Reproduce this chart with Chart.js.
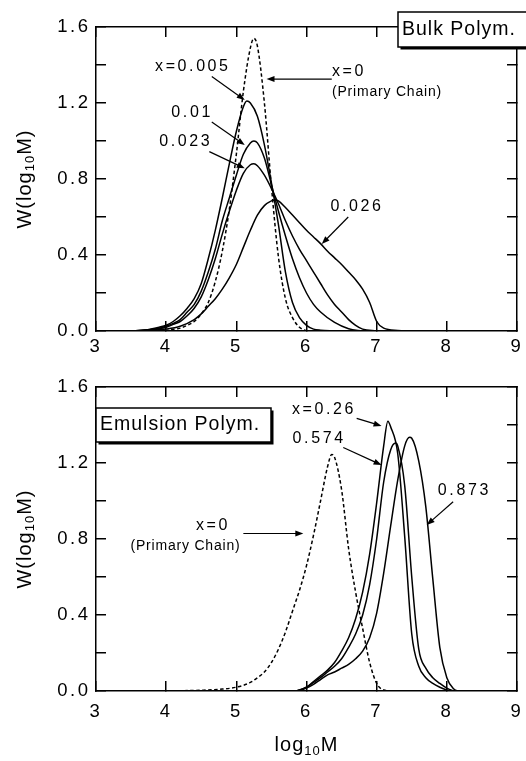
<!DOCTYPE html>
<html>
<head>
<meta charset="utf-8">
<script src="https://cdn.jsdelivr.net/npm/chart.js@4/dist/chart.umd.min.js"></script>
<style>
  html, body { margin: 0; padding: 0; background: #fff; }
  #wrap { position: relative; width: 526px; height: 761px; }
  canvas { position: absolute; left: 0; }
</style>
</head>
<body>
<div id="wrap">
  <canvas id="bulk" width="526" height="370" style="top:0"></canvas>
  <canvas id="emul" width="526" height="391" style="top:370px"></canvas>
</div>
<script>
// ---------- DATA ----------
const xTickLabels = ['3', '4', '5', '6', '7', '8', '9'];
const yTickLabels = ['0.0', '0.4', '0.8', '1.2', '1.6'];

// Bulk polymerization (top panel)
const bulkPrimaryX = [3.9, 4.0, 4.1, 4.2, 4.3, 4.4, 4.5, 4.6, 4.7, 4.8, 4.9, 5.0, 5.1, 5.2, 5.25, 5.3, 5.4, 5.5, 5.6, 5.7, 5.8, 5.9, 6.0];
const bulkPrimaryY = [0, 0.003, 0.008, 0.015, 0.03, 0.05, 0.09, 0.15, 0.26, 0.42, 0.64, 0.93, 1.26, 1.49, 1.54, 1.50, 1.20, 0.76, 0.39, 0.17, 0.07, 0.02, 0];

const bulk0005X = [3.5, 3.7, 3.9, 4.0, 4.1, 4.2, 4.3, 4.4, 4.5, 4.6, 4.7, 4.8, 4.9, 5.0, 5.1, 5.15, 5.2, 5.3, 5.4, 5.5, 5.6, 5.7, 5.8, 5.9, 6.0, 6.1, 6.2, 6.4];
const bulk0005Y = [0, 0.005, 0.02, 0.03, 0.05, 0.08, 0.12, 0.17, 0.25, 0.38, 0.53, 0.70, 0.88, 1.05, 1.18, 1.21, 1.20, 1.13, 0.98, 0.78, 0.56, 0.31, 0.15, 0.07, 0.03, 0.01, 0.004, 0];

const bulk001X = [3.5, 3.7, 3.9, 4.0, 4.1, 4.2, 4.3, 4.4, 4.5, 4.6, 4.7, 4.8, 4.9, 5.0, 5.1, 5.2, 5.25, 5.3, 5.4, 5.5, 5.6, 5.7, 5.8, 5.9, 6.0, 6.1, 6.2, 6.4, 6.6, 6.8];
const bulk001Y = [0, 0.005, 0.015, 0.025, 0.04, 0.06, 0.10, 0.14, 0.21, 0.31, 0.43, 0.58, 0.70, 0.82, 0.93, 0.99, 1.00, 0.99, 0.91, 0.77, 0.63, 0.50, 0.38, 0.28, 0.20, 0.14, 0.10, 0.045, 0.012, 0];

const bulk0023X = [3.5, 3.7, 3.9, 4.0, 4.1, 4.2, 4.3, 4.4, 4.5, 4.6, 4.7, 4.8, 4.9, 5.0, 5.1, 5.2, 5.25, 5.3, 5.4, 5.5, 5.6, 5.7, 5.8, 5.9, 6.0, 6.1, 6.2, 6.3, 6.4, 6.5, 6.6, 6.7, 6.8, 7.0];
const bulk0023Y = [0, 0.004, 0.012, 0.02, 0.035, 0.05, 0.08, 0.12, 0.18, 0.27, 0.38, 0.51, 0.63, 0.74, 0.83, 0.875, 0.88, 0.87, 0.82, 0.75, 0.67, 0.58, 0.50, 0.43, 0.37, 0.31, 0.25, 0.19, 0.14, 0.10, 0.06, 0.03, 0.01, 0];

const bulk0026X = [3.6, 3.8, 4.0, 4.2, 4.4, 4.5, 4.6, 4.7, 4.8, 4.9, 5.0, 5.1, 5.2, 5.3, 5.4, 5.5, 5.55, 5.6, 5.7, 5.8, 5.9, 6.0, 6.1, 6.2, 6.3, 6.4, 6.5, 6.6, 6.7, 6.8, 6.9, 7.0, 7.1, 7.3, 7.5];
const bulk0026Y = [0, 0.004, 0.01, 0.025, 0.06, 0.09, 0.13, 0.17, 0.22, 0.28, 0.35, 0.44, 0.53, 0.61, 0.66, 0.685, 0.69, 0.685, 0.65, 0.61, 0.57, 0.53, 0.495, 0.46, 0.42, 0.385, 0.35, 0.31, 0.27, 0.22, 0.15, 0.05, 0.015, 0.003, 0];

// Emulsion polymerization (bottom panel)
const emulPrimaryX = [4.0, 4.5, 4.8, 5.0, 5.2, 5.3, 5.4, 5.5, 5.6, 5.7, 5.8, 5.9, 6.0, 6.1, 6.2, 6.3, 6.36, 6.4, 6.5, 6.6, 6.7, 6.8, 6.9, 7.0, 7.1, 7.2];
const emulPrimaryY = [0, 0.004, 0.01, 0.02, 0.045, 0.07, 0.10, 0.15, 0.22, 0.31, 0.42, 0.53, 0.66, 0.82, 1.00, 1.18, 1.245, 1.23, 1.06, 0.75, 0.52, 0.33, 0.15, 0.04, 0.005, 0];

const emul026X = [5.85, 5.9, 6.0, 6.1, 6.2, 6.3, 6.4, 6.5, 6.6, 6.7, 6.8, 6.9, 7.0, 7.1, 7.16, 7.2, 7.3, 7.4, 7.5, 7.6, 7.7, 7.8, 7.9, 8.0, 8.05];
const emul026Y = [0, 0.005, 0.02, 0.05, 0.08, 0.11, 0.15, 0.21, 0.28, 0.38, 0.52, 0.72, 0.99, 1.29, 1.42, 1.39, 1.25, 0.81, 0.30, 0.13, 0.07, 0.04, 0.02, 0.005, 0];

const emul0574X = [5.85, 5.9, 6.0, 6.1, 6.2, 6.3, 6.4, 6.5, 6.6, 6.7, 6.8, 6.9, 7.0, 7.1, 7.2, 7.27, 7.3, 7.4, 7.5, 7.6, 7.7, 7.8, 7.9, 8.0, 8.1];
const emul0574Y = [0, 0.005, 0.02, 0.045, 0.07, 0.10, 0.13, 0.17, 0.23, 0.30, 0.40, 0.56, 0.80, 1.10, 1.27, 1.305, 1.29, 1.08, 0.60, 0.22, 0.12, 0.07, 0.04, 0.015, 0];

const emul0873X = [5.9, 6.0, 6.1, 6.2, 6.3, 6.4, 6.5, 6.6, 6.7, 6.8, 6.9, 7.0, 7.1, 7.2, 7.3, 7.4, 7.47, 7.5, 7.6, 7.7, 7.8, 7.9, 8.0, 8.1, 8.15];
const emul0873Y = [0, 0.015, 0.035, 0.06, 0.085, 0.10, 0.12, 0.14, 0.17, 0.21, 0.28, 0.41, 0.62, 0.87, 1.11, 1.29, 1.335, 1.33, 1.21, 0.97, 0.59, 0.23, 0.07, 0.01, 0];

// ---------- RENDERING ----------
const FONT = '"Liberation Sans", Arial, Helvetica, sans-serif';

function pts(xs, ys) { return xs.map((x, i) => ({ x: x, y: ys[i] })); }
function series(xs, ys, dashed) {
  return {
    data: pts(xs, ys),
    borderColor: '#000',
    borderWidth: 1.5,
    borderDash: dashed ? [3.5, 2.5] : [],
    pointRadius: 0,
    fill: false,
    cubicInterpolationMode: 'monotone',
    xAxisID: 'x', yAxisID: 'y'
  };
}

function drawText(ctx, s, x, y, size, ls, align, base) {
  ctx.save();
  ctx.font = size + 'px ' + FONT;
  ctx.letterSpacing = ls + 'px';
  ctx.textAlign = align || 'left';
  ctx.textBaseline = base || 'middle';
  ctx.fillStyle = '#000';
  ctx.fillText(s, x, y);
  ctx.restore();
}

function drawRich(ctx, parts, cx, cy, rotate) {
  ctx.save();
  ctx.translate(cx, cy);
  if (rotate) ctx.rotate(-Math.PI / 2);
  ctx.fillStyle = '#000';
  ctx.textBaseline = 'middle';
  ctx.textAlign = 'left';
  let total = 0;
  const widths = parts.map(p => {
    ctx.font = p.size + 'px ' + FONT;
    ctx.letterSpacing = (p.ls || 0) + 'px';
    const w = ctx.measureText(p.t).width;
    total += w;
    return w;
  });
  let x = -total / 2;
  parts.forEach((p, i) => {
    ctx.font = p.size + 'px ' + FONT;
    ctx.letterSpacing = (p.ls || 0) + 'px';
    ctx.fillText(p.t, x, p.dy || 0);
    x += widths[i];
  });
  ctx.restore();
}

function drawArrow(ctx, x1, y1, x2, y2) {
  const ang = Math.atan2(y2 - y1, x2 - x1);
  const L = 8, W = 3;
  ctx.save();
  ctx.strokeStyle = '#000';
  ctx.fillStyle = '#000';
  ctx.lineWidth = 1.2;
  ctx.beginPath();
  ctx.moveTo(x1, y1);
  ctx.lineTo(x2 - Math.cos(ang) * (L - 1), y2 - Math.sin(ang) * (L - 1));
  ctx.stroke();
  ctx.beginPath();
  ctx.moveTo(x2, y2);
  ctx.lineTo(x2 - L * Math.cos(ang) + W * Math.sin(ang), y2 - L * Math.sin(ang) - W * Math.cos(ang));
  ctx.lineTo(x2 - L * Math.cos(ang) - W * Math.sin(ang), y2 - L * Math.sin(ang) + W * Math.cos(ang));
  ctx.closePath();
  ctx.fill();
  ctx.restore();
}

function drawBox(ctx, box) {
  ctx.save();
  ctx.fillStyle = '#000';
  ctx.fillRect(box.x + 2.5, box.y + 2.5, box.w, box.h);
  ctx.fillStyle = '#fff';
  ctx.fillRect(box.x, box.y, box.w, box.h);
  ctx.strokeStyle = '#000';
  ctx.lineWidth = 1.5;
  ctx.strokeRect(box.x, box.y, box.w, box.h);
  ctx.restore();
  drawText(ctx, box.text, box.tx, box.ty, 19.5, 1, 'left', 'middle');
}

const annoPlugin = {
  id: 'anno',
  beforeDraw(chart) { chart.ctx.letterSpacing = '2.5px'; },
  afterDraw(chart, args, opts) {
    const ctx = chart.ctx;
    const xs = chart.scales.x, ys = chart.scales.y;
    const ca = chart.chartArea;
    (opts.labels || []).forEach(l => {
      drawText(ctx, l.t, xs.getPixelForValue(l.x), ys.getPixelForValue(l.y), l.size, l.ls, l.align, 'middle');
    });
    (opts.arrows || []).forEach(a => {
      drawArrow(ctx, xs.getPixelForValue(a[0]), ys.getPixelForValue(a[1]),
                     xs.getPixelForValue(a[2]), ys.getPixelForValue(a[3]));
    });
    if (opts.box) drawBox(ctx, opts.box);
    // y-axis title
    drawRich(ctx, [
      { t: 'W(log', size: 20, ls: 1 },
      { t: '10', size: 13, ls: 1, dy: 5 },
      { t: 'M)', size: 20, ls: 1 }
    ], 25, (ca.top + ca.bottom) / 2, true);
    if (opts.xTitle) {
      drawRich(ctx, [
        { t: 'log', size: 20, ls: 1 },
        { t: '10', size: 13, ls: 1, dy: 6 },
        { t: 'M', size: 20, ls: 1 }
      ], (ca.left + ca.right) / 2, opts.xTitleY, false);
    }
  }
};

function axisGrid() {
  return { drawOnChartArea: false, drawTicks: true, tickLength: -10, color: '#000', lineWidth: 1.5 };
}
function axisBorder() { return { display: true, color: '#000', width: 1.5 }; }
function zeroPad(s) { s.paddingLeft = 0; s.paddingRight = 0; s.paddingTop = 0; s.paddingBottom = 0; }

function makeOptions(cfg) {
  const tickFont = { family: FONT, size: 18.5 };
  return {
    responsive: false,
    animation: false,
    devicePixelRatio: 1,
    layout: { padding: { left: 0, right: 9, top: cfg.padTop, bottom: 0 } },
    plugins: { legend: { display: false }, tooltip: { enabled: false }, anno: cfg.anno },
    elements: { point: { radius: 0 } },
    scales: {
      x: {
        type: 'linear', position: 'bottom', min: 3, max: 9,
        ticks: { stepSize: 1, autoSkip: false, maxRotation: 0, padding: cfg.xPad, color: '#000', font: tickFont,
                 callback: (v) => { const i = Math.round(v) - 3; return xTickLabels[i] !== undefined ? xTickLabels[i] : ''; } },
        grid: axisGrid(), border: axisBorder(),
        afterFit: (s) => { s.height = cfg.xH; zeroPad(s); }
      },
      xTop: {
        type: 'linear', position: 'top', min: 3, max: 9,
        ticks: { stepSize: 1, autoSkip: false, maxRotation: 0, callback: () => '' },
        grid: axisGrid(), border: axisBorder(),
        afterFit: (s) => { s.height = 0; zeroPad(s); }
      },
      y: {
        type: 'linear', position: 'left', min: 0, max: 1.6,
        ticks: { stepSize: 0.2, autoSkip: false, padding: 15.5, color: '#000', font: tickFont,
                 callback: (v) => { const k = Math.round(v * 10); return (k % 4 === 0) ? yTickLabels[k / 4] : ''; } },
        grid: axisGrid(), border: axisBorder(),
        afterFit: (s) => { s.width = 96; zeroPad(s); }
      },
      yRight: {
        type: 'linear', position: 'right', min: 0, max: 1.6,
        ticks: { stepSize: 0.2, autoSkip: false, callback: () => '' },
        grid: axisGrid(), border: axisBorder(),
        afterFit: (s) => { s.width = 0; zeroPad(s); }
      }
    }
  };
}

new Chart(document.getElementById('bulk'), {
  type: 'line',
  data: {
    datasets: [
      series(bulkPrimaryX, bulkPrimaryY, true),
      series(bulk0005X, bulk0005Y, false),
      series(bulk001X, bulk001Y, false),
      series(bulk0023X, bulk0023Y, false),
      series(bulk0026X, bulk0026Y, false)
    ]
  },
  options: makeOptions({
    padTop: 27, xH: 39, xPad: 15,
    anno: {
      labels: [
        { t: 'x=0.005', x: 4.38, y: 1.39, size: 16, ls: 2.6, align: 'center' },
        { t: 'x=0', x: 6.363, y: 1.363, size: 16, ls: 2.6, align: 'left' },
        { t: '(Primary Chain)', x: 6.363, y: 1.258, size: 14, ls: 0.8, align: 'left' },
        { t: '0.01', x: 4.37, y: 1.147, size: 16, ls: 2.6, align: 'center' },
        { t: '0.023', x: 4.28, y: 0.995, size: 16, ls: 2.6, align: 'center' },
        { t: '0.026', x: 6.72, y: 0.653, size: 16, ls: 2.6, align: 'center' }
      ],
      arrows: [
        [4.65, 1.34, 5.12, 1.216],
        [6.36, 1.326, 5.43, 1.326],
        [4.65, 1.10, 5.12, 0.979],
        [4.615, 0.944, 5.12, 0.856],
        [6.595, 0.60, 6.217, 0.458]
      ],
      box: { x: 398, y: 12, w: 140, h: 35, text: 'Bulk Polym.', tx: 402, ty: 30 }
    }
  }),
  plugins: [annoPlugin]
});

new Chart(document.getElementById('emul'), {
  type: 'line',
  data: {
    datasets: [
      series(emulPrimaryX, emulPrimaryY, true),
      series(emul026X, emul026Y, false),
      series(emul0574X, emul0574Y, false),
      series(emul0873X, emul0873Y, false)
    ]
  },
  options: makeOptions({
    padTop: 17, xH: 70, xPad: 20,
    anno: {
      labels: [
        { t: 'x=0.26', x: 6.25, y: 1.479, size: 16, ls: 2.6, align: 'center' },
        { t: '0.574', x: 6.18, y: 1.331, size: 16, ls: 2.6, align: 'center' },
        { t: '0.873', x: 8.25, y: 1.054, size: 16, ls: 2.6, align: 'center' },
        { t: 'x=0', x: 4.667, y: 0.868, size: 16, ls: 2.6, align: 'center' },
        { t: '(Primary Chain)', x: 4.275, y: 0.762, size: 14, ls: 0.8, align: 'center' }
      ],
      arrows: [
        [6.715, 1.435, 7.07, 1.395],
        [6.524, 1.282, 7.07, 1.189],
        [8.09, 0.996, 7.713, 0.874],
        [5.10, 0.829, 5.955, 0.829]
      ],
      box: { x: 96, y: 38, w: 175, h: 34, text: 'Emulsion Polym.', tx: 100, ty: 55 },
      xTitle: true, xTitleY: 375
    }
  }),
  plugins: [annoPlugin]
});
</script>
</body>
</html>
